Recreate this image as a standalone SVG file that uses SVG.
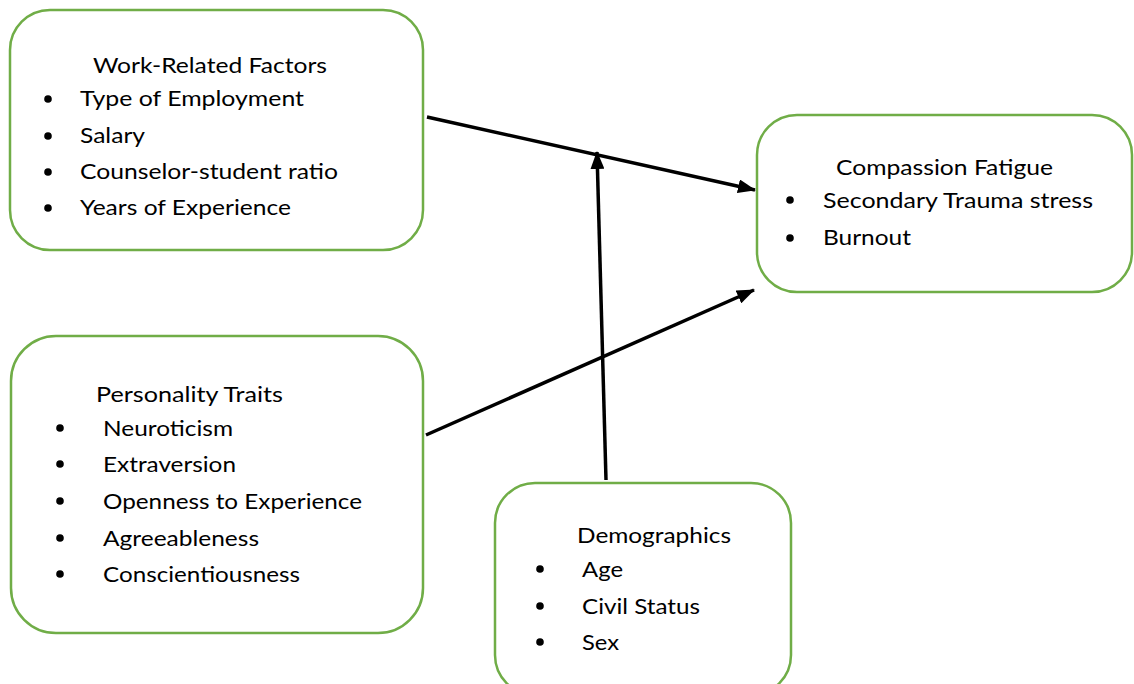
<svg xmlns="http://www.w3.org/2000/svg" width="1134" height="684" viewBox="0 0 1134 684">
<defs>
<marker id="ah" markerUnits="userSpaceOnUse" markerWidth="18" markerHeight="14" viewBox="0 0 18 14" refX="17" refY="7" orient="auto">
<path d="M0,0 L18,7 L0,14 Z" fill="#000"/>
</marker>
<style>
.box{fill:#fff;stroke:#70AD47;stroke-width:2.5}
.t{font-family:Lato,"Liberation Sans",sans-serif;font-size:22px;fill:#000}
.b{fill:#000}
.c{stroke:#000;stroke-width:3.5;fill:none;marker-end:url(#ah)}
</style>
</defs>
<rect width="1134" height="684" fill="#fff"/>
<g id="work">
<rect class="box" x="10" y="10" width="413" height="240" rx="40"/>
<text class="t" x="93" y="73" textLength="234" lengthAdjust="spacingAndGlyphs">Work-Related Factors</text>
<circle class="b" cx="48" cy="99" r="3.8"/><text class="t" x="80" y="106" textLength="224" lengthAdjust="spacingAndGlyphs">Type of Employment</text>
<circle class="b" cx="48" cy="136" r="3.8"/><text class="t" x="80" y="143" textLength="65" lengthAdjust="spacingAndGlyphs">Salary</text>
<circle class="b" cx="48" cy="172" r="3.8"/><text class="t" x="80" y="179" textLength="258" lengthAdjust="spacingAndGlyphs">Counselor-student ratio</text>
<circle class="b" cx="48" cy="208" r="3.8"/><text class="t" x="80" y="215" textLength="211" lengthAdjust="spacingAndGlyphs">Years of Experience</text>
</g>
<g id="compassion">
<rect class="box" x="757" y="115" width="375" height="177" rx="40"/>
<text class="t" x="836" y="175" textLength="217" lengthAdjust="spacingAndGlyphs">Compassion Fatigue</text>
<circle class="b" cx="790" cy="200" r="3.8"/><text class="t" x="823" y="208" textLength="270" lengthAdjust="spacingAndGlyphs">Secondary Trauma stress</text>
<circle class="b" cx="790" cy="238" r="3.8"/><text class="t" x="823" y="245" textLength="88" lengthAdjust="spacingAndGlyphs">Burnout</text>
</g>
<g id="personality">
<rect class="box" x="11" y="336" width="412" height="297" rx="45"/>
<text class="t" x="96" y="402" textLength="187" lengthAdjust="spacingAndGlyphs">Personality Traits</text>
<circle class="b" cx="60" cy="428" r="3.8"/><text class="t" x="103" y="436" textLength="130" lengthAdjust="spacingAndGlyphs">Neuroticism</text>
<circle class="b" cx="60" cy="464" r="3.8"/><text class="t" x="103" y="472" textLength="133" lengthAdjust="spacingAndGlyphs">Extraversion</text>
<circle class="b" cx="60" cy="501" r="3.8"/><text class="t" x="103" y="509" textLength="259" lengthAdjust="spacingAndGlyphs">Openness to Experience</text>
<circle class="b" cx="60" cy="538" r="3.8"/><text class="t" x="103" y="546" textLength="156" lengthAdjust="spacingAndGlyphs">Agreeableness</text>
<circle class="b" cx="60" cy="574" r="3.8"/><text class="t" x="103" y="582" textLength="197" lengthAdjust="spacingAndGlyphs">Conscientiousness</text>
</g>
<g id="demographics">
<rect class="box" x="495" y="483" width="296" height="212" rx="40"/>
<text class="t" x="577" y="543" textLength="154" lengthAdjust="spacingAndGlyphs">Demographics</text>
<circle class="b" cx="540" cy="569" r="3.8"/><text class="t" x="582" y="577" textLength="41" lengthAdjust="spacingAndGlyphs">Age</text>
<circle class="b" cx="540" cy="606" r="3.8"/><text class="t" x="582" y="614" textLength="118" lengthAdjust="spacingAndGlyphs">Civil Status</text>
<circle class="b" cx="540" cy="642" r="3.8"/><text class="t" x="582" y="650" textLength="37" lengthAdjust="spacingAndGlyphs">Sex</text>
</g>
<g id="connectors">
<line class="c" x1="427" y1="117" x2="755" y2="190"/>
<line class="c" x1="426" y1="435" x2="754" y2="290"/>
<line class="c" x1="606" y1="480" x2="597" y2="152"/>
</g>
</svg>
